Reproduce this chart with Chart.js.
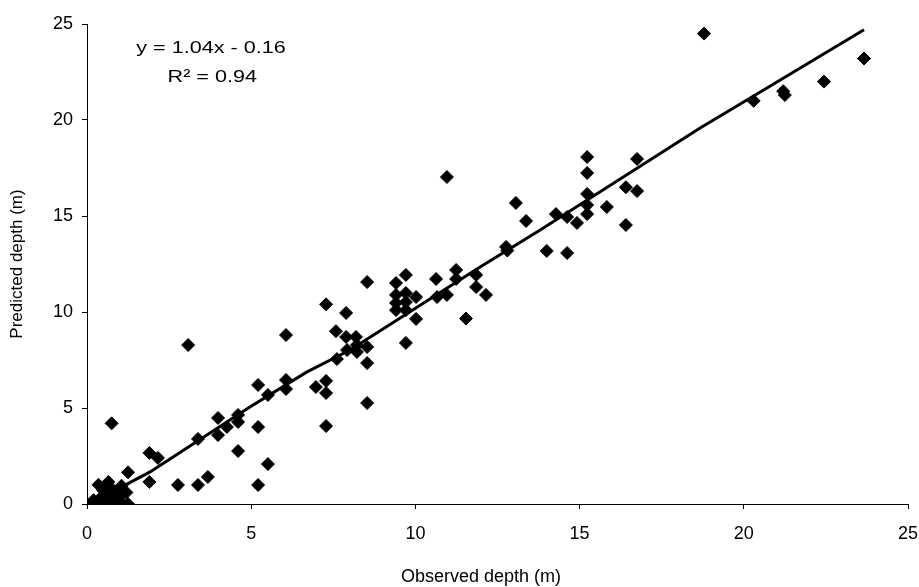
<!DOCTYPE html>
<html>
<head>
<meta charset="utf-8">
<script src="https://cdn.jsdelivr.net/npm/chart.js@4.4.1/dist/chart.umd.min.js"></script>
<style>
    html, body { margin: 0; padding: 0; background: #fff; }
    #wrap { width: 919px; height: 587px; }
</style>
</head>
<body>
<div id="wrap"><canvas id="myChart"></canvas></div>
<script>
// observed vs predicted depth (m)
const observed = [
    0, 0.3, 0.5, 0.7, 0.9, 1.1, 1.25, 0.2, 0.4, 0.6, 0.8, 1.0, 1.2, 0.5, 0.75, 0.35, 0.65, 1.05, 0.9, 1.25,
    0.75, 1.9, 2.16, 1.9, 2.77, 3.38, 3.68, 3.08, 3.38, 3.99, 3.99, 4.26, 4.6, 4.6, 4.6, 5.21, 5.21, 5.21, 5.51, 5.51,
    6.06, 6.06, 6.06, 6.97, 7.28, 7.28, 7.28, 7.28, 7.89, 7.58, 7.89, 8.19, 8.22, 7.92, 8.22, 8.53, 7.61, 8.53, 8.53, 8.53,
    9.41, 9.41, 9.41, 9.41, 9.71, 9.71, 9.71, 9.71, 10.02, 10.02, 9.71, 10.66, 10.63, 10.96, 10.96, 11.24, 11.24, 11.85, 11.85, 12.15,
    11.54, 12.76, 12.8, 13.06, 13.37, 14.0, 14.28, 14.62, 14.62, 14.92, 15.23, 15.23, 15.23, 15.23, 15.23, 15.83, 16.41, 16.41, 16.75, 16.75,
    18.79, 20.3, 21.2, 21.25, 22.44, 23.66
];
const predicted = [
    0, 0, 0, 0, 0, 0, 0, 0.2, 0.3, 0.4, 0.3, 0.4, 0.6, 0.7, 0.8, 1.0, 1.15, 0.95, 0.6, 1.65,
    4.2, 2.66, 2.4, 1.15, 0.99, 0.99, 1.41, 8.28, 3.39, 4.48, 3.59, 4.01, 4.64, 4.27, 2.76, 6.2, 4.01, 0.99, 2.08, 5.68,
    8.8, 6.46, 5.99, 6.09, 6.41, 5.78, 4.06, 10.4, 9.95, 9.0, 8.7, 8.7, 8.28, 8.02, 7.92, 8.18, 7.55, 7.34, 5.26, 11.56,
    11.51, 10.89, 10.47, 10.1, 11.93, 10.99, 10.52, 10.1, 10.78, 9.64, 8.39, 10.78, 11.72, 10.89, 17.03, 12.19, 11.72, 11.93, 11.3, 10.89,
    9.66, 13.39, 13.2, 15.68, 14.74, 13.18, 15.1, 14.95, 13.07, 14.64, 18.07, 17.24, 16.15, 15.57, 15.1, 15.47, 16.5, 14.53, 16.3, 17.97,
    24.5, 21.0, 21.5, 21.3, 22.0, 23.2
];

// trend line as drawn in the picture
const trendX = [0.9, 1.92, 4.96, 6.7, 8.01, 11.97, 13.8, 18.67, 20.4, 23.66];
const trendY = [0.75, 1.67, 5.05, 6.88, 8.02, 12.34, 14.27, 19.58, 21.35, 24.7];

const axisTicks = [0, 5, 10, 15, 20, 25];
const equationText = ['y = 1.04x - 0.16', 'R\u00B2 = 0.94'];
const xTitle = 'Observed depth (m)';
const yTitle = 'Predicted depth (m)';

const fontFamily = '"Liberation Sans", Arial, sans-serif';

const points = observed.map(function (x, i) { return { x: x, y: predicted[i] }; });
const trend = trendX.map(function (x, i) { return { x: x, y: trendY[i] }; });

// equation box + x title
const textPlugin = {
    id: 'texts',
    afterDraw: function (chart) {
        const c = chart.ctx;
        c.save();
        c.fillStyle = '#000';
        c.textAlign = 'center';
        c.textBaseline = 'middle';
        c.font = '17px ' + fontFamily;
        c.save();
        c.translate(211, 0);
        c.scale(1.27, 1);
        c.fillText(equationText[0], 0, 48);
        c.fillText(equationText[1], 1, 77);
        c.restore();
        c.font = '18px ' + fontFamily;
        c.fillText(xTitle, 481, 577);
        c.restore();
    }
};

const data = {
    datasets: [{
        type: 'line',
        data: trend,
        borderColor: '#000',
        borderWidth: 3,
        pointRadius: 0,
        fill: false,
        tension: 0
    }, {
        type: 'scatter',
        data: points,
        pointStyle: 'rectRot',
        pointRadius: 6.5,
        backgroundColor: '#000',
        borderColor: '#000',
        borderWidth: 1
    }]
};

const config = {
    type: 'scatter',
    data: data,
    plugins: [textPlugin],
    options: {
        responsive: false,
        animation: false,
        layout: {
            padding: { top: 24, right: 0, left: 0, bottom: 0 }
        },
        plugins: {
            legend: { display: false },
            tooltip: { enabled: false }
        },
        scales: {
            x: {
                type: 'linear',
                min: 0,
                max: 25,
                afterBuildTicks: function (axis) {
                    axis.ticks = axisTicks.map(function (v) { return { value: v }; });
                },
                afterFit: function (axis) {
                    axis.height = 83;
                    axis.paddingLeft = 0;
                    axis.paddingRight = 11;
                },
                grid: { drawOnChartArea: false, drawTicks: true, tickLength: 5, color: '#000' },
                border: { color: '#000', width: 1 },
                ticks: {
                    color: '#000',
                    padding: 14,
                    maxRotation: 0,
                    font: { family: fontFamily, size: 18 }
                },
                title: { display: false }
            },
            y: {
                type: 'linear',
                min: 0,
                max: 25,
                afterBuildTicks: function (axis) {
                    axis.ticks = axisTicks.map(function (v) { return { value: v }; });
                },
                afterFit: function (axis) { axis.width = 87; },
                grid: { drawOnChartArea: false, drawTicks: true, tickLength: 5, color: '#000' },
                border: { color: '#000', width: 1 },
                ticks: {
                    color: '#000',
                    padding: 9,
                    font: { family: fontFamily, size: 18 }
                },
                title: {
                    display: true,
                    text: yTitle,
                    color: '#000',
                    padding: { top: 7, bottom: 0 },
                    font: { family: fontFamily, size: 17 }
                }
            }
        }
    }
};

const canvas = document.getElementById('myChart');
canvas.width = 919;
canvas.height = 587;
const myChart = new Chart(canvas, config);
</script>
</body>
</html>
